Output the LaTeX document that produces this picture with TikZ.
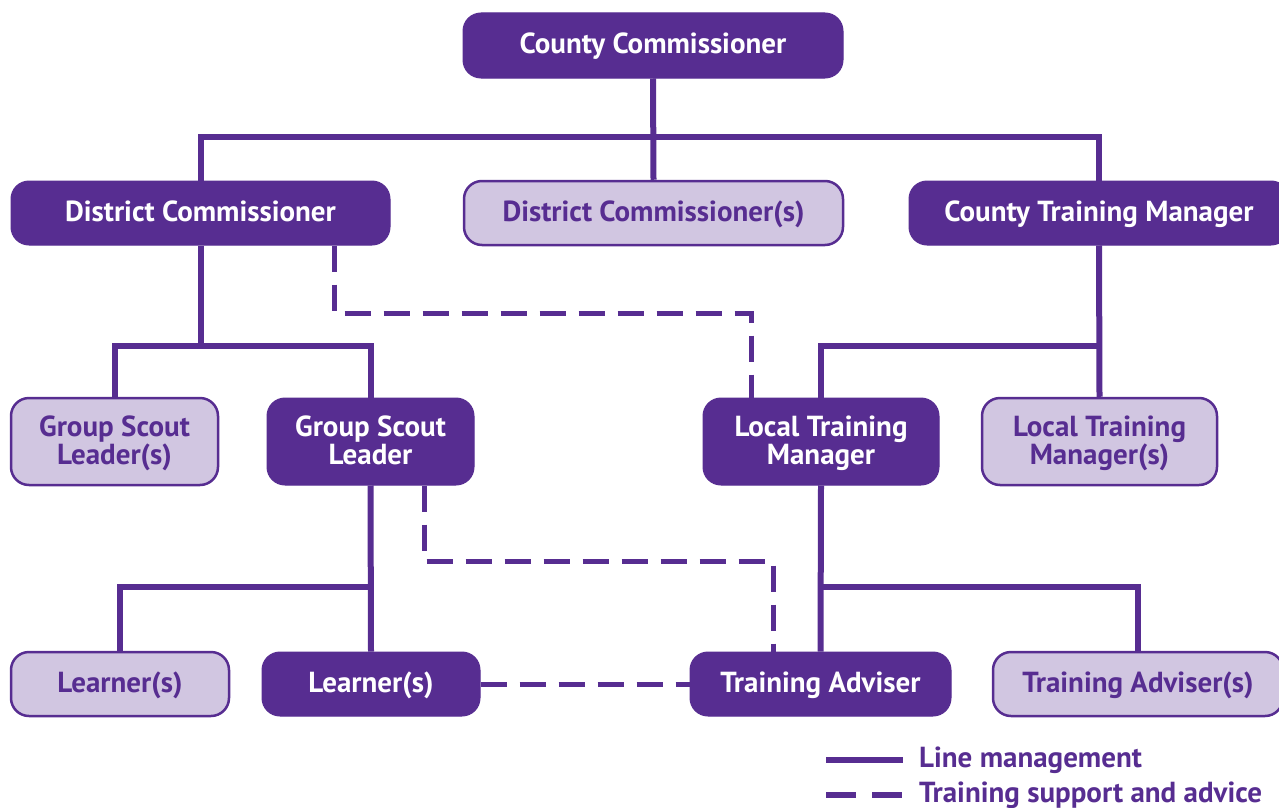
\documentclass[tikz,border=0pt]{standalone}
\usepackage{fontspec}
\setmainfont{PT Sans}
\definecolor{purp}{HTML}{572D91}
\definecolor{lite}{HTML}{D1C6E1}
\begin{document}
\begin{tikzpicture}[x=1pt,y=-1pt,
  box/.style={rounded corners=18pt, inner sep=0pt, align=center,
    font=\fontsize{29}{28}\selectfont\bfseries},
  one/.style={text height=22pt, text depth=6pt},
  two/.style={text depth=2pt},
  dk/.style={box, fill=purp, draw=purp, line width=1pt, text=white},
  lt/.style={box, fill=lite, draw=purp, line width=2.5pt, text=purp},
  mgmt/.style={draw=purp, line width=6pt},
  dsh/.style={draw=purp, line width=5pt, dash pattern=on 26pt off 13pt},
  leg/.style={anchor=west, inner sep=0pt, text=purp, font=\fontsize{29}{28}\selectfont\bfseries}]
\useasboundingbox (0,0) rectangle (1279,808);
% row 1
\node[dk, one, minimum width=380pt, minimum height=65pt] (cc) at (653,45.5) {County Commissioner};
% row 2
\node[dk, one, minimum width=379pt, minimum height=64pt] (dc) at (200.5,213) {District Commissioner};
\node[lt, one, minimum width=379pt, minimum height=64pt] (dcs) at (653.5,213) {District Commissioner(s)};
\node[dk, one, minimum width=380pt, minimum height=64pt] (ctm) at (1099,213) {County Training Manager};
% row 3
\node[lt, two, minimum width=207pt, minimum height=87pt] (gsls) at (114.5,441.5) {Group Scout\\Leader(s)};
\node[dk, two, minimum width=207pt, minimum height=87pt] (gsl) at (370.5,441.5) {Group Scout\\Leader};
\node[dk, two, minimum width=236pt, minimum height=87pt] (ltm) at (821,441.5) {Local Training\\Manager};
\node[lt, two, minimum width=235pt, minimum height=87pt] (ltms) at (1099.5,441.5) {Local Training\\Manager(s)};
% row 4
\node[lt, one, minimum width=218pt, minimum height=64pt] (l1) at (120,684) {Learner(s)};
\node[dk, one, minimum width=218pt, minimum height=64pt] (l2) at (371,684) {Learner(s)};
\node[dk, one, minimum width=261pt, minimum height=64pt] (ta) at (820.5,684) {Training Adviser};
\node[lt, one, minimum width=290pt, minimum height=64pt] (tas) at (1138,684) {Training Adviser(s)};
% junctions
\coordinate (j1) at (653,137);
\coordinate (j2) at (200,346);
\coordinate (j3) at (1099,346);
\coordinate (j4) at (370.5,587);
\coordinate (j5) at (821,587);
% line management
\draw[mgmt] (cc.south) -- (dcs.north);
\draw[mgmt] (dc.north) |- (j1) -| (ctm.north);
\draw[mgmt] (dc.south) -- (dc.south |- j2);
\draw[mgmt] (gsls.north) |- (j2) -| (gsl.north);
\draw[mgmt] (ctm.south) -- (ltms.north);
\draw[mgmt] (j3) -| (ltm.north);
\draw[mgmt] (gsl.south) -- (l2.north);
\draw[mgmt] (j4) -| (l1.north);
\draw[mgmt] (ltm.south) -- (ta.north);
\draw[mgmt] (j5) -| (tas.north);
% training support
\coordinate (d1) at (334,313);
\coordinate (d2) at (751,313);
\coordinate (d3) at (424,561);
\coordinate (d4) at (773,561);
\draw[dsh] (d1 |- dc.south) -- (d1) -- (d2) -- (d2 |- ltm.north);
\draw[dsh] (d3 |- gsl.south) -- (d3) -- (d4) -- (d4 |- ta.north);
\draw[dsh] (l2.east) -- (ta.west);
% legend
\coordinate (la) at (826,760);
\coordinate (lb) at (903,760);
\coordinate (lc) at (826,795);
\coordinate (ld) at (903,795);
\draw[draw=purp, line width=6pt] (la) -- (lb);
\draw[draw=purp, line width=6pt, dash pattern=on 30pt off 16pt] (lc) -- (ld);
\node[leg] (lt1) at (919,760) {Line management};
\node[leg] (lt2) at (919,795) {Training support and advice};
\end{tikzpicture}
\end{document}
